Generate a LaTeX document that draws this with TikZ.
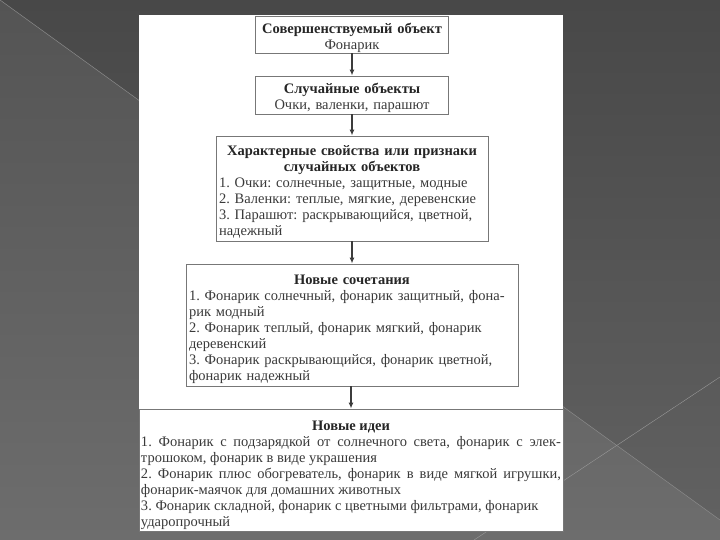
\documentclass[tikz,border=0pt]{standalone}
\usepackage{fontspec}
\setmainfont{Liberation Serif}
\frenchspacing
\usetikzlibrary{arrows.meta}
\definecolor{bgtop}{HTML}{484848}
\definecolor{bgbot}{HTML}{626262}
\definecolor{lttop}{HTML}{545454}
\definecolor{ltbot}{HTML}{6D6D6D}
\definecolor{boxgray}{HTML}{777777}
\definecolor{txtgray}{HTML}{3A3A3A}
\definecolor{arrgray}{HTML}{3C3C3C}
\newcommand{\boxtitle}[1]{{\centering\textbf{\color{black!85}#1}\par}}
\newcommand{\boxfont}{\fontsize{14.5bp}{16bp}\selectfont\lineskiplimit=-20bp\relax}
\begin{document}
\begin{tikzpicture}[x=1bp,y=-1bp,
  box/.style={draw=boxgray, line width=0.9bp, fill=white, inner sep=0pt},
  txt/.style={inner sep=0pt, anchor=north, text=txtgray, font=\boxfont},
  arr/.style={draw=arrgray, line width=1.2bp, -{Latex[length=6bp,width=5bp]}}]
\useasboundingbox (0,0) rectangle (720,540);
% background
\shade[top color=bgtop, bottom color=bgbot] (0,0) rectangle (720,540);
\shade[top color=lttop, bottom color=ltbot] (0,0) -- (720,520) -- (720,540) -- (0,540) -- cycle;
\draw[line width=0.5bp, color=ltbot!80!white] (0,0) -- (720,520);
\draw[line width=0.4bp, color=ltbot!70!white] (474,540) -- (720,377);
% page
\fill[white] (139,15) rectangle (563,531);
% boxes
\node[box, minimum width=193bp, minimum height=37bp] (b1) at (352,34.5) {};
\node[box, minimum width=193bp, minimum height=38bp] (b2) at (352,95) {};
\node[box, minimum width=272bp, minimum height=105bp] (b3) at (352,188.5) {};
\node[box, minimum width=332bp, minimum height=122bp] (b4) at (352,325) {};
\node[box, minimum width=424bp, minimum height=122bp] (b5) at (351,470) {};
% texts
\node[txt, text width=187bp, align=center] (t1) at ([yshift=-7.5bp]b1.north)
  {\textbf{\color{black!85}Совершенствуемый объект}\\Фонарик};
\node[txt, text width=187bp, align=center] (t2) at ([yshift=-7.5bp]b2.north)
  {\textbf{\color{black!85}Случайные объекты}\\Очки, валенки, парашют};
\node[txt, text width=266bp, align=left] (t3) at ([yshift=-10bp]b3.north)
  {\boxtitle{Характерные свойства или признаки\\ случайных объектов}
   1. Очки: солнечные, защитные, модные\\
   2. Валенки: теплые, мягкие, деревенские\\
   3. Парашют: раскрывающийся, цветной,\\
   надежный};
\node[txt, text width=326bp, align=left] (t4) at ([yshift=-11bp]b4.north)
  {\boxtitle{Новые сочетания}
   1. Фонарик солнечный, фонарик защитный, фона-\\
   рик модный\\
   2. Фонарик теплый, фонарик мягкий, фонарик\\
   деревенский\\
   3. Фонарик раскрывающийся, фонарик цветной,\\
   фонарик надежный};
\node[txt, text width=420bp, align=justify] (t5) at ([yshift=-12bp]b5.north)
  {\boxtitle{Новые идеи}
   1. Фонарик с подзарядкой от солнечного света, фонарик с элек-\linebreak
   трошоком, фонарик в виде украшения\\
   2. Фонарик плюс обогреватель, фонарик в виде мягкой игрушки,\linebreak
   фонарик-маячок для домашних животных\\
   3. Фонарик складной, фонарик с цветными фильтрами, фонарик\\
   ударопрочный};
% connectors
\draw[arr] (b1) -- (b2);
\draw[arr] (b2) -- (b3);
\draw[arr] (b3) -- (b4);
\draw[arr] (b4.south -| b5.north) -- (b5.north);
\end{tikzpicture}
\end{document}
